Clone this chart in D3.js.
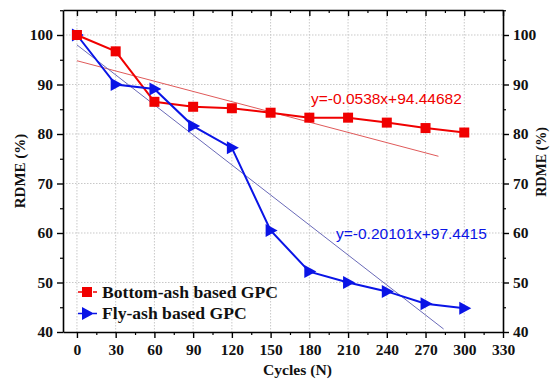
<!DOCTYPE html>
<html><head><meta charset="utf-8">
<script src="https://cdn.jsdelivr.net/npm/d3@7"></script>
<style>body{margin:0;background:#fff}svg{display:block}
.lbl{font-family:'Liberation Serif','Times New Roman',serif;font-weight:bold;fill:#111}
</style>
</head><body>
<svg id="c" width="550" height="384"></svg>
<script>
const cycles = [0, 30, 60, 90, 120, 150, 180, 210, 240, 270, 300];
const bottomAsh = [100, 96.7, 86.5, 85.5, 85.2, 84.3, 83.3, 83.3, 82.3, 81.2, 80.3];
const flyAsh = [100, 90, 89.1, 81.6, 77.2, 60.5, 52.2, 50.0, 48.2, 45.7, 44.8];
const bottomFit = [[0, 94.8], [280, 75.5]];
const flyFit = [[0, 98.0], [284, 40.6]];
const xTicks = [0, 30, 60, 90, 120, 150, 180, 210, 240, 270, 300, 330];
const yTicks = [40, 50, 60, 70, 80, 90, 100];
const bottomEq = "y=-0.0538x+94.44682";
const flyEq = "y=-0.20101x+97.4415";
const seriesNames = ["Bottom-ash based GPC", "Fly-ash based GPC"];

const svg = d3.select("#c");
const L = 63, R = 503, T = 10, B = 332;
const x = d3.scaleLinear().domain([-10.8, 330]).range([L, R]);
const y = d3.scaleLinear().domain([40, 105.05]).range([B, T]);
const sans = "'Liberation Sans',Arial,sans-serif";

// grid
const g = svg.append("g");
g.selectAll(".gx").data(xTicks.filter(d => d < 330)).enter().append("line")
  .attr("x1", d => x(d)).attr("x2", d => x(d)).attr("y1", T).attr("y2", B)
  .attr("stroke", "#c8c8c8").attr("stroke-width", 1).attr("stroke-dasharray", "1.5,1.5");
g.selectAll(".gy").data(yTicks.filter(d => d > 40)).enter().append("line")
  .attr("x1", L).attr("x2", R).attr("y1", d => y(d)).attr("y2", d => y(d))
  .attr("stroke", "#c8c8c8").attr("stroke-width", 1).attr("stroke-dasharray", "1.5,1.5");

// axes
const minorX = d3.range(-15, 331, 15).filter(d => d % 30 !== 0 && d > -10.8);
const minorY = d3.range(40, 106, 5).filter(d => d % 10 !== 0);
function styleAxis(sel) {
  sel.select(".domain").attr("stroke", "#000").attr("stroke-width", 1.6);
  sel.selectAll(".tick line").attr("stroke", "#000").attr("stroke-width", 1.4);
  sel.selectAll(".tick text").attr("class", "lbl").style("font-size", "15.5px");
}
function minor(s) { s.select(".domain").remove(); s.selectAll("line").attr("stroke", "#000").attr("stroke-width", 1.2); }

const xb = svg.append("g").attr("transform", `translate(0,${B})`)
  .call(d3.axisBottom(x).tickValues(xTicks).tickSize(6).tickSizeOuter(0).tickPadding(6));
styleAxis(xb);
svg.append("g").attr("transform", `translate(0,${B})`)
  .call(d3.axisBottom(x).tickValues(minorX).tickSize(3).tickFormat("")).call(minor);
const xt = svg.append("g").attr("transform", `translate(0,${T})`)
  .call(d3.axisBottom(x).tickValues(xTicks).tickSize(6).tickSizeOuter(0).tickFormat(""));
styleAxis(xt);
svg.append("g").attr("transform", `translate(0,${T})`)
  .call(d3.axisBottom(x).tickValues(minorX).tickSize(3).tickFormat("")).call(minor);

const yl = svg.append("g").attr("transform", `translate(${L},0)`)
  .call(d3.axisLeft(y).tickValues(yTicks).tickSize(6).tickSizeOuter(0).tickPadding(4));
styleAxis(yl);
svg.append("g").attr("transform", `translate(${L},0)`)
  .call(d3.axisLeft(y).tickValues(minorY).tickSize(3).tickFormat("")).call(minor);
const yr = svg.append("g").attr("transform", `translate(${R},0)`)
  .call(d3.axisRight(y).tickValues(yTicks).tickSize(6).tickSizeOuter(0).tickPadding(4));
styleAxis(yr);
svg.append("g").attr("transform", `translate(${R},0)`)
  .call(d3.axisRight(y).tickValues(minorY).tickSize(3).tickFormat("")).call(minor);

// fit lines
const line = d3.line().x(d => x(d[0])).y(d => y(d[1]));
svg.append("path").datum(bottomFit).attr("d", line).attr("stroke", "#e05a5a").attr("stroke-width", 1).attr("fill", "none");
svg.append("path").datum(flyFit).attr("d", line).attr("stroke", "#6a6ab8").attr("stroke-width", 1).attr("fill", "none");

// series
const red = "#f00000", blue = "#0a14e6";
const bData = cycles.map((c, i) => [c, bottomAsh[i]]);
const fData = cycles.map((c, i) => [c, flyAsh[i]]);
svg.append("path").datum(bData).attr("d", line).attr("stroke", red).attr("stroke-width", 2).attr("fill", "none");
svg.append("path").datum(fData).attr("d", line).attr("stroke", blue).attr("stroke-width", 2).attr("fill", "none");
const tri = "M-5,-6.5L7,0L-5,6.5Z";
svg.selectAll(".fm").data(fData).enter().append("path")
  .attr("transform", d => `translate(${x(d[0])},${y(d[1])})`).attr("d", tri).attr("fill", blue);
svg.selectAll(".bm").data(bData).enter().append("rect")
  .attr("x", d => x(d[0]) - 5).attr("y", d => y(d[1]) - 5).attr("width", 10).attr("height", 10).attr("fill", red);

// equations
svg.append("text").attr("x", 311).attr("y", 103.5).text(bottomEq)
  .style("font-family", sans).style("font-size", "15.5px").attr("fill", red);
svg.append("text").attr("x", 336).attr("y", 238.5).text(flyEq)
  .style("font-family", sans).style("font-size", "15.5px").attr("fill", blue);

// legend
const leg = svg.append("g");
[[red, 292, "sq"], [blue, 313.5, "tri"]].forEach((d, i) => {
  leg.append("line").attr("x1", 78).attr("x2", 97).attr("y1", d[1]).attr("y2", d[1])
    .attr("stroke", d[0]).attr("stroke-width", 1.5).attr("stroke-dasharray", "4,11");
  if (d[2] === "sq") leg.append("rect").attr("x", 82).attr("y", d[1] - 5).attr("width", 10).attr("height", 10).attr("fill", d[0]);
  else leg.append("path").attr("transform", `translate(87,${d[1]})`).attr("d", tri).attr("fill", d[0]);
  leg.append("text").attr("class", "lbl").attr("x", 102).attr("y", d[1] + 5.5).text(seriesNames[i])
    .style("font-size", "17.6px");
});

// axis titles
svg.append("text").attr("class", "lbl").attr("x", 297.5).attr("y", 375).attr("text-anchor", "middle").text("Cycles (N)")
  .style("font-size", "15.6px");
svg.append("text").attr("class", "lbl").attr("transform", "translate(25,171) rotate(-90)").attr("text-anchor", "middle").text("RDME (%)")
  .style("font-size", "15px");
svg.append("text").attr("class", "lbl").attr("transform", "translate(546,162) rotate(-90)").attr("text-anchor", "middle").text("RDME (%)")
  .style("font-size", "14px");
</script>
</body></html>
